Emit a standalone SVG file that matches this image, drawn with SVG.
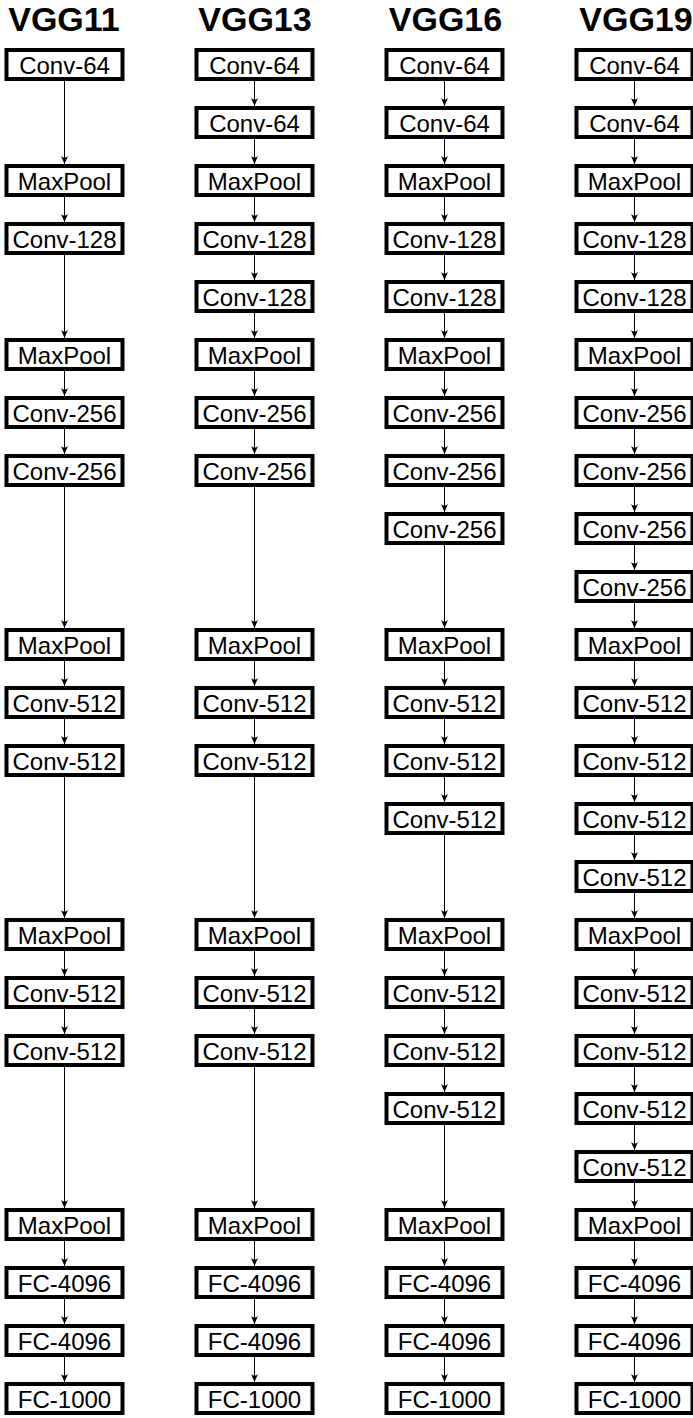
<svg xmlns="http://www.w3.org/2000/svg" width="693" height="1418" viewBox="0 0 693 1418">
<style>
.n rect{fill:#fff;stroke:#000;stroke-width:4}
.n text{font-family:"Liberation Sans",Arial,sans-serif;font-size:24px;text-anchor:middle;fill:#000}
.t{font-family:"Liberation Sans",Arial,sans-serif;font-size:34px;font-weight:bold;text-anchor:middle;fill:#000}
#connectors line{stroke:#000;stroke-width:1;marker-end:url(#ah)}
</style>
<defs>
<marker id="ah" markerUnits="userSpaceOnUse" markerWidth="10" markerHeight="10" viewBox="-9 -5 10 10" refX="0" refY="0" orient="auto">
<path d="M0,0 L-8,-3.5 Q-4.5,0 -8,3.5 Z" fill="#000" stroke="none"/>
</marker>
</defs>
<rect width="693" height="1418" fill="#fff"/>
<g id="titles">
<text class="t" x="64" y="31">VGG11</text>
<text class="t" x="255" y="31">VGG13</text>
<text class="t" x="445.5" y="31">VGG16</text>
<text class="t" x="636" y="31">VGG19</text>
</g>
<g id="connectors">
<!-- VGG11 -->
<line x1="64.5" y1="81" x2="64.5" y2="164"/>
<line x1="64.5" y1="197" x2="64.5" y2="222"/>
<line x1="64.5" y1="255" x2="64.5" y2="338"/>
<line x1="64.5" y1="371" x2="64.5" y2="396"/>
<line x1="64.5" y1="429" x2="64.5" y2="454"/>
<line x1="64.5" y1="487" x2="64.5" y2="628"/>
<line x1="64.5" y1="661" x2="64.5" y2="686"/>
<line x1="64.5" y1="719" x2="64.5" y2="744"/>
<line x1="64.5" y1="777" x2="64.5" y2="918"/>
<line x1="64.5" y1="951" x2="64.5" y2="976"/>
<line x1="64.5" y1="1009" x2="64.5" y2="1034"/>
<line x1="64.5" y1="1067" x2="64.5" y2="1208"/>
<line x1="64.5" y1="1241" x2="64.5" y2="1266"/>
<line x1="64.5" y1="1299" x2="64.5" y2="1324"/>
<line x1="64.5" y1="1357" x2="64.5" y2="1382"/>
<!-- VGG13 -->
<line x1="254.5" y1="81" x2="254.5" y2="106"/>
<line x1="254.5" y1="139" x2="254.5" y2="164"/>
<line x1="254.5" y1="197" x2="254.5" y2="222"/>
<line x1="254.5" y1="255" x2="254.5" y2="280"/>
<line x1="254.5" y1="313" x2="254.5" y2="338"/>
<line x1="254.5" y1="371" x2="254.5" y2="396"/>
<line x1="254.5" y1="429" x2="254.5" y2="454"/>
<line x1="254.5" y1="487" x2="254.5" y2="628"/>
<line x1="254.5" y1="661" x2="254.5" y2="686"/>
<line x1="254.5" y1="719" x2="254.5" y2="744"/>
<line x1="254.5" y1="777" x2="254.5" y2="918"/>
<line x1="254.5" y1="951" x2="254.5" y2="976"/>
<line x1="254.5" y1="1009" x2="254.5" y2="1034"/>
<line x1="254.5" y1="1067" x2="254.5" y2="1208"/>
<line x1="254.5" y1="1241" x2="254.5" y2="1266"/>
<line x1="254.5" y1="1299" x2="254.5" y2="1324"/>
<line x1="254.5" y1="1357" x2="254.5" y2="1382"/>
<!-- VGG16 -->
<line x1="444.5" y1="81" x2="444.5" y2="106"/>
<line x1="444.5" y1="139" x2="444.5" y2="164"/>
<line x1="444.5" y1="197" x2="444.5" y2="222"/>
<line x1="444.5" y1="255" x2="444.5" y2="280"/>
<line x1="444.5" y1="313" x2="444.5" y2="338"/>
<line x1="444.5" y1="371" x2="444.5" y2="396"/>
<line x1="444.5" y1="429" x2="444.5" y2="454"/>
<line x1="444.5" y1="487" x2="444.5" y2="512"/>
<line x1="444.5" y1="545" x2="444.5" y2="628"/>
<line x1="444.5" y1="661" x2="444.5" y2="686"/>
<line x1="444.5" y1="719" x2="444.5" y2="744"/>
<line x1="444.5" y1="777" x2="444.5" y2="802"/>
<line x1="444.5" y1="835" x2="444.5" y2="918"/>
<line x1="444.5" y1="951" x2="444.5" y2="976"/>
<line x1="444.5" y1="1009" x2="444.5" y2="1034"/>
<line x1="444.5" y1="1067" x2="444.5" y2="1092"/>
<line x1="444.5" y1="1125" x2="444.5" y2="1208"/>
<line x1="444.5" y1="1241" x2="444.5" y2="1266"/>
<line x1="444.5" y1="1299" x2="444.5" y2="1324"/>
<line x1="444.5" y1="1357" x2="444.5" y2="1382"/>
<!-- VGG19 -->
<line x1="634.5" y1="81" x2="634.5" y2="106"/>
<line x1="634.5" y1="139" x2="634.5" y2="164"/>
<line x1="634.5" y1="197" x2="634.5" y2="222"/>
<line x1="634.5" y1="255" x2="634.5" y2="280"/>
<line x1="634.5" y1="313" x2="634.5" y2="338"/>
<line x1="634.5" y1="371" x2="634.5" y2="396"/>
<line x1="634.5" y1="429" x2="634.5" y2="454"/>
<line x1="634.5" y1="487" x2="634.5" y2="512"/>
<line x1="634.5" y1="545" x2="634.5" y2="570"/>
<line x1="634.5" y1="603" x2="634.5" y2="628"/>
<line x1="634.5" y1="661" x2="634.5" y2="686"/>
<line x1="634.5" y1="719" x2="634.5" y2="744"/>
<line x1="634.5" y1="777" x2="634.5" y2="802"/>
<line x1="634.5" y1="835" x2="634.5" y2="860"/>
<line x1="634.5" y1="893" x2="634.5" y2="918"/>
<line x1="634.5" y1="951" x2="634.5" y2="976"/>
<line x1="634.5" y1="1009" x2="634.5" y2="1034"/>
<line x1="634.5" y1="1067" x2="634.5" y2="1092"/>
<line x1="634.5" y1="1125" x2="634.5" y2="1150"/>
<line x1="634.5" y1="1183" x2="634.5" y2="1208"/>
<line x1="634.5" y1="1241" x2="634.5" y2="1266"/>
<line x1="634.5" y1="1299" x2="634.5" y2="1324"/>
<line x1="634.5" y1="1357" x2="634.5" y2="1382"/>
</g>
<!-- VGG11 nodes -->
<g id="v11-r0" class="n" transform="translate(64.5,64.5)"><rect x="-58" y="-14.5" width="116" height="29"/><text y="9.5">Conv-64</text></g>
<g id="v11-r2" class="n" transform="translate(64.5,180.5)"><rect x="-58" y="-14.5" width="116" height="29"/><text y="9.5">MaxPool</text></g>
<g id="v11-r3" class="n" transform="translate(64.5,238.5)"><rect x="-58" y="-14.5" width="116" height="29"/><text y="9.5">Conv-128</text></g>
<g id="v11-r5" class="n" transform="translate(64.5,354.5)"><rect x="-58" y="-14.5" width="116" height="29"/><text y="9.5">MaxPool</text></g>
<g id="v11-r6" class="n" transform="translate(64.5,412.5)"><rect x="-58" y="-14.5" width="116" height="29"/><text y="9.5">Conv-256</text></g>
<g id="v11-r7" class="n" transform="translate(64.5,470.5)"><rect x="-58" y="-14.5" width="116" height="29"/><text y="9.5">Conv-256</text></g>
<g id="v11-r10" class="n" transform="translate(64.5,644.5)"><rect x="-58" y="-14.5" width="116" height="29"/><text y="9.5">MaxPool</text></g>
<g id="v11-r11" class="n" transform="translate(64.5,702.5)"><rect x="-58" y="-14.5" width="116" height="29"/><text y="9.5">Conv-512</text></g>
<g id="v11-r12" class="n" transform="translate(64.5,760.5)"><rect x="-58" y="-14.5" width="116" height="29"/><text y="9.5">Conv-512</text></g>
<g id="v11-r15" class="n" transform="translate(64.5,934.5)"><rect x="-58" y="-14.5" width="116" height="29"/><text y="9.5">MaxPool</text></g>
<g id="v11-r16" class="n" transform="translate(64.5,992.5)"><rect x="-58" y="-14.5" width="116" height="29"/><text y="9.5">Conv-512</text></g>
<g id="v11-r17" class="n" transform="translate(64.5,1050.5)"><rect x="-58" y="-14.5" width="116" height="29"/><text y="9.5">Conv-512</text></g>
<g id="v11-r20" class="n" transform="translate(64.5,1224.5)"><rect x="-58" y="-14.5" width="116" height="29"/><text y="9.5">MaxPool</text></g>
<g id="v11-r21" class="n" transform="translate(64.5,1282.5)"><rect x="-58" y="-14.5" width="116" height="29"/><text y="9.5">FC-4096</text></g>
<g id="v11-r22" class="n" transform="translate(64.5,1340.5)"><rect x="-58" y="-14.5" width="116" height="29"/><text y="9.5">FC-4096</text></g>
<g id="v11-r23" class="n" transform="translate(64.5,1398.5)"><rect x="-58" y="-14.5" width="116" height="29"/><text y="9.5">FC-1000</text></g>
<!-- VGG13 nodes -->
<g id="v13-r0" class="n" transform="translate(254.5,64.5)"><rect x="-58" y="-14.5" width="116" height="29"/><text y="9.5">Conv-64</text></g>
<g id="v13-r1" class="n" transform="translate(254.5,122.5)"><rect x="-58" y="-14.5" width="116" height="29"/><text y="9.5">Conv-64</text></g>
<g id="v13-r2" class="n" transform="translate(254.5,180.5)"><rect x="-58" y="-14.5" width="116" height="29"/><text y="9.5">MaxPool</text></g>
<g id="v13-r3" class="n" transform="translate(254.5,238.5)"><rect x="-58" y="-14.5" width="116" height="29"/><text y="9.5">Conv-128</text></g>
<g id="v13-r4" class="n" transform="translate(254.5,296.5)"><rect x="-58" y="-14.5" width="116" height="29"/><text y="9.5">Conv-128</text></g>
<g id="v13-r5" class="n" transform="translate(254.5,354.5)"><rect x="-58" y="-14.5" width="116" height="29"/><text y="9.5">MaxPool</text></g>
<g id="v13-r6" class="n" transform="translate(254.5,412.5)"><rect x="-58" y="-14.5" width="116" height="29"/><text y="9.5">Conv-256</text></g>
<g id="v13-r7" class="n" transform="translate(254.5,470.5)"><rect x="-58" y="-14.5" width="116" height="29"/><text y="9.5">Conv-256</text></g>
<g id="v13-r10" class="n" transform="translate(254.5,644.5)"><rect x="-58" y="-14.5" width="116" height="29"/><text y="9.5">MaxPool</text></g>
<g id="v13-r11" class="n" transform="translate(254.5,702.5)"><rect x="-58" y="-14.5" width="116" height="29"/><text y="9.5">Conv-512</text></g>
<g id="v13-r12" class="n" transform="translate(254.5,760.5)"><rect x="-58" y="-14.5" width="116" height="29"/><text y="9.5">Conv-512</text></g>
<g id="v13-r15" class="n" transform="translate(254.5,934.5)"><rect x="-58" y="-14.5" width="116" height="29"/><text y="9.5">MaxPool</text></g>
<g id="v13-r16" class="n" transform="translate(254.5,992.5)"><rect x="-58" y="-14.5" width="116" height="29"/><text y="9.5">Conv-512</text></g>
<g id="v13-r17" class="n" transform="translate(254.5,1050.5)"><rect x="-58" y="-14.5" width="116" height="29"/><text y="9.5">Conv-512</text></g>
<g id="v13-r20" class="n" transform="translate(254.5,1224.5)"><rect x="-58" y="-14.5" width="116" height="29"/><text y="9.5">MaxPool</text></g>
<g id="v13-r21" class="n" transform="translate(254.5,1282.5)"><rect x="-58" y="-14.5" width="116" height="29"/><text y="9.5">FC-4096</text></g>
<g id="v13-r22" class="n" transform="translate(254.5,1340.5)"><rect x="-58" y="-14.5" width="116" height="29"/><text y="9.5">FC-4096</text></g>
<g id="v13-r23" class="n" transform="translate(254.5,1398.5)"><rect x="-58" y="-14.5" width="116" height="29"/><text y="9.5">FC-1000</text></g>
<!-- VGG16 nodes -->
<g id="v16-r0" class="n" transform="translate(444.5,64.5)"><rect x="-58" y="-14.5" width="116" height="29"/><text y="9.5">Conv-64</text></g>
<g id="v16-r1" class="n" transform="translate(444.5,122.5)"><rect x="-58" y="-14.5" width="116" height="29"/><text y="9.5">Conv-64</text></g>
<g id="v16-r2" class="n" transform="translate(444.5,180.5)"><rect x="-58" y="-14.5" width="116" height="29"/><text y="9.5">MaxPool</text></g>
<g id="v16-r3" class="n" transform="translate(444.5,238.5)"><rect x="-58" y="-14.5" width="116" height="29"/><text y="9.5">Conv-128</text></g>
<g id="v16-r4" class="n" transform="translate(444.5,296.5)"><rect x="-58" y="-14.5" width="116" height="29"/><text y="9.5">Conv-128</text></g>
<g id="v16-r5" class="n" transform="translate(444.5,354.5)"><rect x="-58" y="-14.5" width="116" height="29"/><text y="9.5">MaxPool</text></g>
<g id="v16-r6" class="n" transform="translate(444.5,412.5)"><rect x="-58" y="-14.5" width="116" height="29"/><text y="9.5">Conv-256</text></g>
<g id="v16-r7" class="n" transform="translate(444.5,470.5)"><rect x="-58" y="-14.5" width="116" height="29"/><text y="9.5">Conv-256</text></g>
<g id="v16-r8" class="n" transform="translate(444.5,528.5)"><rect x="-58" y="-14.5" width="116" height="29"/><text y="9.5">Conv-256</text></g>
<g id="v16-r10" class="n" transform="translate(444.5,644.5)"><rect x="-58" y="-14.5" width="116" height="29"/><text y="9.5">MaxPool</text></g>
<g id="v16-r11" class="n" transform="translate(444.5,702.5)"><rect x="-58" y="-14.5" width="116" height="29"/><text y="9.5">Conv-512</text></g>
<g id="v16-r12" class="n" transform="translate(444.5,760.5)"><rect x="-58" y="-14.5" width="116" height="29"/><text y="9.5">Conv-512</text></g>
<g id="v16-r13" class="n" transform="translate(444.5,818.5)"><rect x="-58" y="-14.5" width="116" height="29"/><text y="9.5">Conv-512</text></g>
<g id="v16-r15" class="n" transform="translate(444.5,934.5)"><rect x="-58" y="-14.5" width="116" height="29"/><text y="9.5">MaxPool</text></g>
<g id="v16-r16" class="n" transform="translate(444.5,992.5)"><rect x="-58" y="-14.5" width="116" height="29"/><text y="9.5">Conv-512</text></g>
<g id="v16-r17" class="n" transform="translate(444.5,1050.5)"><rect x="-58" y="-14.5" width="116" height="29"/><text y="9.5">Conv-512</text></g>
<g id="v16-r18" class="n" transform="translate(444.5,1108.5)"><rect x="-58" y="-14.5" width="116" height="29"/><text y="9.5">Conv-512</text></g>
<g id="v16-r20" class="n" transform="translate(444.5,1224.5)"><rect x="-58" y="-14.5" width="116" height="29"/><text y="9.5">MaxPool</text></g>
<g id="v16-r21" class="n" transform="translate(444.5,1282.5)"><rect x="-58" y="-14.5" width="116" height="29"/><text y="9.5">FC-4096</text></g>
<g id="v16-r22" class="n" transform="translate(444.5,1340.5)"><rect x="-58" y="-14.5" width="116" height="29"/><text y="9.5">FC-4096</text></g>
<g id="v16-r23" class="n" transform="translate(444.5,1398.5)"><rect x="-58" y="-14.5" width="116" height="29"/><text y="9.5">FC-1000</text></g>
<!-- VGG19 nodes -->
<g id="v19-r0" class="n" transform="translate(634.5,64.5)"><rect x="-58" y="-14.5" width="116" height="29"/><text y="9.5">Conv-64</text></g>
<g id="v19-r1" class="n" transform="translate(634.5,122.5)"><rect x="-58" y="-14.5" width="116" height="29"/><text y="9.5">Conv-64</text></g>
<g id="v19-r2" class="n" transform="translate(634.5,180.5)"><rect x="-58" y="-14.5" width="116" height="29"/><text y="9.5">MaxPool</text></g>
<g id="v19-r3" class="n" transform="translate(634.5,238.5)"><rect x="-58" y="-14.5" width="116" height="29"/><text y="9.5">Conv-128</text></g>
<g id="v19-r4" class="n" transform="translate(634.5,296.5)"><rect x="-58" y="-14.5" width="116" height="29"/><text y="9.5">Conv-128</text></g>
<g id="v19-r5" class="n" transform="translate(634.5,354.5)"><rect x="-58" y="-14.5" width="116" height="29"/><text y="9.5">MaxPool</text></g>
<g id="v19-r6" class="n" transform="translate(634.5,412.5)"><rect x="-58" y="-14.5" width="116" height="29"/><text y="9.5">Conv-256</text></g>
<g id="v19-r7" class="n" transform="translate(634.5,470.5)"><rect x="-58" y="-14.5" width="116" height="29"/><text y="9.5">Conv-256</text></g>
<g id="v19-r8" class="n" transform="translate(634.5,528.5)"><rect x="-58" y="-14.5" width="116" height="29"/><text y="9.5">Conv-256</text></g>
<g id="v19-r9" class="n" transform="translate(634.5,586.5)"><rect x="-58" y="-14.5" width="116" height="29"/><text y="9.5">Conv-256</text></g>
<g id="v19-r10" class="n" transform="translate(634.5,644.5)"><rect x="-58" y="-14.5" width="116" height="29"/><text y="9.5">MaxPool</text></g>
<g id="v19-r11" class="n" transform="translate(634.5,702.5)"><rect x="-58" y="-14.5" width="116" height="29"/><text y="9.5">Conv-512</text></g>
<g id="v19-r12" class="n" transform="translate(634.5,760.5)"><rect x="-58" y="-14.5" width="116" height="29"/><text y="9.5">Conv-512</text></g>
<g id="v19-r13" class="n" transform="translate(634.5,818.5)"><rect x="-58" y="-14.5" width="116" height="29"/><text y="9.5">Conv-512</text></g>
<g id="v19-r14" class="n" transform="translate(634.5,876.5)"><rect x="-58" y="-14.5" width="116" height="29"/><text y="9.5">Conv-512</text></g>
<g id="v19-r15" class="n" transform="translate(634.5,934.5)"><rect x="-58" y="-14.5" width="116" height="29"/><text y="9.5">MaxPool</text></g>
<g id="v19-r16" class="n" transform="translate(634.5,992.5)"><rect x="-58" y="-14.5" width="116" height="29"/><text y="9.5">Conv-512</text></g>
<g id="v19-r17" class="n" transform="translate(634.5,1050.5)"><rect x="-58" y="-14.5" width="116" height="29"/><text y="9.5">Conv-512</text></g>
<g id="v19-r18" class="n" transform="translate(634.5,1108.5)"><rect x="-58" y="-14.5" width="116" height="29"/><text y="9.5">Conv-512</text></g>
<g id="v19-r19" class="n" transform="translate(634.5,1166.5)"><rect x="-58" y="-14.5" width="116" height="29"/><text y="9.5">Conv-512</text></g>
<g id="v19-r20" class="n" transform="translate(634.5,1224.5)"><rect x="-58" y="-14.5" width="116" height="29"/><text y="9.5">MaxPool</text></g>
<g id="v19-r21" class="n" transform="translate(634.5,1282.5)"><rect x="-58" y="-14.5" width="116" height="29"/><text y="9.5">FC-4096</text></g>
<g id="v19-r22" class="n" transform="translate(634.5,1340.5)"><rect x="-58" y="-14.5" width="116" height="29"/><text y="9.5">FC-4096</text></g>
<g id="v19-r23" class="n" transform="translate(634.5,1398.5)"><rect x="-58" y="-14.5" width="116" height="29"/><text y="9.5">FC-1000</text></g>
</svg>
